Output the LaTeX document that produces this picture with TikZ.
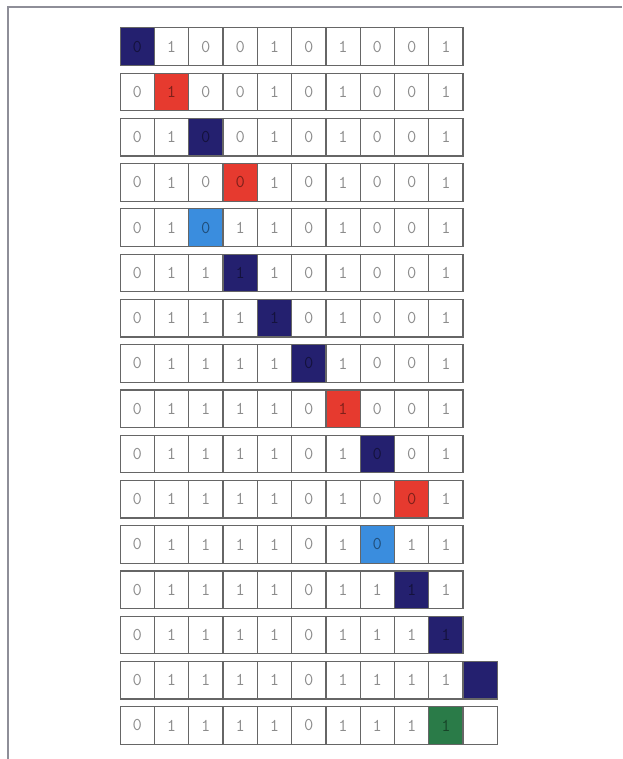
\documentclass[tikz,border=0pt]{standalone}
\usepackage{fontspec}
\definecolor{dblue}{HTML}{24206F}
\definecolor{hred}{HTML}{E63A2F}
\definecolor{lblue}{HTML}{3A8DDE}
\definecolor{hgreen}{HTML}{2A7B48}
\definecolor{edgegray}{HTML}{666666}
\definecolor{digitgray}{HTML}{8C8C8C}
\definecolor{framegray}{HTML}{8E8E98}
\tikzset{
  cell/.style={draw=edgegray, line width=0.9pt, fill=white, anchor=north west,
    minimum width=25.7pt, minimum height=28.2pt, inner sep=0pt,
    font=\ttfamily\fontsize{13.5}{13.5}\selectfont, text=digitgray},
  frameline/.style={draw=framegray, line width=0.9pt}
}
\begin{document}
\begin{tikzpicture}[x=0.75pt,y=-0.75pt]
\useasboundingbox (0,0) rectangle (622,759);
\fill[white] (0,0) rectangle (622,759);
\coordinate (fa) at (8,759);
\coordinate (fb) at (8,7);
\coordinate (fc) at (622,7);
\draw[frameline] (fa) -- (fb) -- (fc);
\foreach \r/\ds/\h/\cc in {
 1/{0,1,0,0,1,0,1,0,0,1}/1/dblue,
 2/{0,1,0,0,1,0,1,0,0,1}/2/hred,
 3/{0,1,0,0,1,0,1,0,0,1}/3/dblue,
 4/{0,1,0,0,1,0,1,0,0,1}/4/hred,
 5/{0,1,0,1,1,0,1,0,0,1}/3/lblue,
 6/{0,1,1,1,1,0,1,0,0,1}/4/dblue,
 7/{0,1,1,1,1,0,1,0,0,1}/5/dblue,
 8/{0,1,1,1,1,0,1,0,0,1}/6/dblue,
 9/{0,1,1,1,1,0,1,0,0,1}/7/hred,
 10/{0,1,1,1,1,0,1,0,0,1}/8/dblue,
 11/{0,1,1,1,1,0,1,0,0,1}/9/hred,
 12/{0,1,1,1,1,0,1,0,1,1}/8/lblue,
 13/{0,1,1,1,1,0,1,1,1,1}/9/dblue,
 14/{0,1,1,1,1,0,1,1,1,1}/10/dblue,
 15/{0,1,1,1,1,0,1,1,1,1,{}}/11/dblue,
 16/{0,1,1,1,1,0,1,1,1,1,{}}/10/hgreen}{
  \foreach \d [count=\k] in \ds {
    \ifnum\k=\h
      \node[cell, fill=\cc, text=\cc!55!black] (r\r c\k) at ({119.5+(\k-1)*34.3},{27.3+(\r-1)*45.25}) {\d};
    \else
      \node[cell] (r\r c\k) at ({119.5+(\k-1)*34.3},{27.3+(\r-1)*45.25}) {\d};
    \fi
  }
}
\end{tikzpicture}
\end{document}
